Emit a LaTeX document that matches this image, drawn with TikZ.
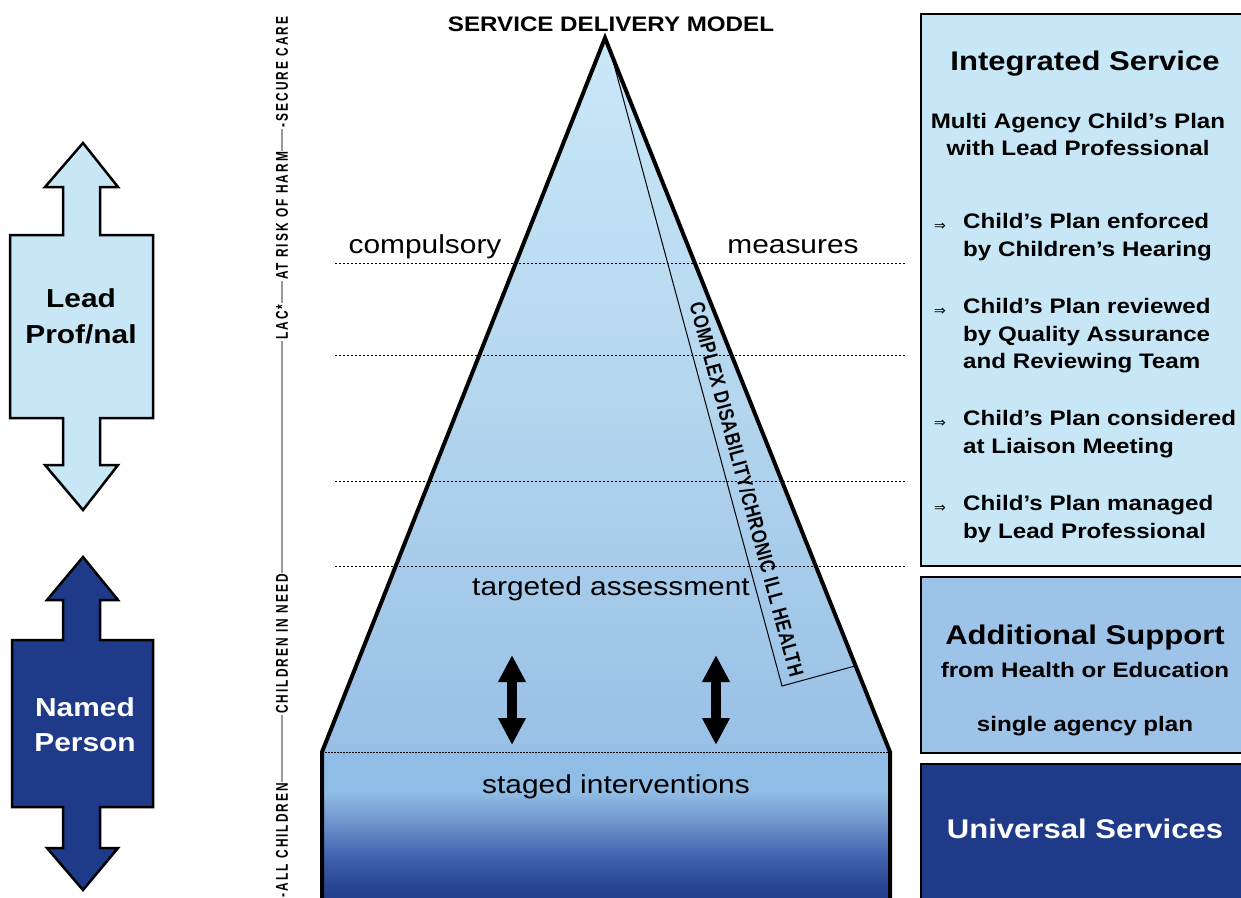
\documentclass[tikz,border=0pt]{standalone}
\usepackage{fontspec}
\setmainfont{Liberation Sans}[FakeStretch=1.15]
\newfontfamily\sidefont{Liberation Sans}[FakeStretch=0.7,LetterSpace=12]
\newfontfamily\stripfont{Liberation Sans}[FakeStretch=0.8,LetterSpace=3]
\newfontfamily\bulletfont{DejaVu Sans}
\usetikzlibrary{arrows.meta}
\definecolor{paleblue}{HTML}{C7E7F7}
\definecolor{midblue}{HTML}{9DC3E9}
\definecolor{navyblue}{HTML}{1F3A89}
\definecolor{pyrtop}{HTML}{C9E8F8}
\definecolor{pyrmid}{HTML}{B4D6EE}
\definecolor{pyrlow}{HTML}{98C0E6}
\definecolor{basetop}{HTML}{90BDE5}
\definecolor{baseupper}{HTML}{6F93CC}
\definecolor{baselower}{HTML}{4666B0}
\definecolor{basedeep}{HTML}{2A4795}
\definecolor{sidegray}{HTML}{9A9A9A}
\pgfdeclareverticalshading{pyrfade}{100bp}{color(0bp)=(pyrlow); color(25bp)=(pyrlow); color(50bp)=(pyrmid); color(75bp)=(pyrtop); color(100bp)=(pyrtop)}
\pgfdeclareverticalshading{basefade}{100bp}{color(0bp)=(navyblue); color(25bp)=(navyblue); color(32bp)=(basedeep); color(42bp)=(baselower); color(52bp)=(baseupper); color(62bp)=(basetop); color(100bp)=(basetop)}
\begin{document}
\begin{tikzpicture}[x=1pt,y=-1pt,
  levtext/.style={font=\fontsize{26}{30}\selectfont},
  head/.style={font=\bfseries\fontsize{27}{31}\selectfont},
  sub/.style={font=\bfseries\fontsize{21}{27}\selectfont, align=center},
  item/.style={font=\bfseries\fontsize{21}{27.5}\selectfont, align=left, anchor=west, inner sep=0pt},
  bullet/.style={font=\bulletfont\fontsize{14}{15}\selectfont, inner sep=0pt},
  side/.style={font=\sidefont\bfseries\fontsize{17}{19}\selectfont, rotate=90, inner sep=1pt},
  sideline/.style={draw=sidegray, line width=2.5pt},
  cutline/.style={line width=1pt, dash pattern=on 2pt off 2pt},
  updown/.style={line width=10pt, {Triangle[length=27pt,width=26pt]}-{Triangle[length=27pt,width=26pt]}},
  boxline/.style={draw=black, line width=2.5pt}]
\fill[white] (0,0) rectangle (1241,897);
\useasboundingbox (0,0) rectangle (1241,897);
% Drawing the pyramid
\coordinate (apex) at (605,38);
\coordinate (bl) at (322,752);
\coordinate (br) at (890,752);
\coordinate (blo) at (322,905);
\coordinate (bro) at (890,905);
\shade[shading=pyrfade] (apex) -- (bl) -- (br) -- cycle;
\shade[shading=basefade] (bl) rectangle (bro);
% Level lines
\draw[cutline] (335,263) -- (907,263);
\draw[cutline] (335,355) -- (907,355);
\draw[cutline] (335,481) -- (907,481);
\draw[cutline] (335,566) -- (907,566);
\draw[line width=0.8pt, dash pattern=on 1.5pt off 1.5pt] (bl) -- (br);
% Complex disability strip
\coordinate (stripTop) at (609,46);
\coordinate (stripBL) at (782,686);
\coordinate (stripBR) at (855,666);
\draw[line width=1pt] (stripTop) -- (stripBL) -- (stripBR);
\path (stripTop) -- (stripBL) node[pos=0.7, sloped, above=6pt, font=\stripfont\bfseries\fontsize{21}{23}\selectfont] (striptext) {COMPLEX DISABILITY/CHRONIC ILL HEALTH};
% Pyramid outline
\draw[line width=4pt, line join=miter] (blo) -- (bl) -- (apex) -- (br) -- (bro);
% Pyramid texts
\node[font=\bfseries\fontsize{21}{24}\selectfont] (title) at (611,24) {SERVICE DELIVERY MODEL};
\node[levtext] (compulsory) at (425,247) {compulsory};
\node[levtext] (measures) at (793,247) {measures};
\node[levtext] (targeted) at (611,589) {targeted assessment};
\node[levtext] (staged) at (616,787) {staged interventions};
% Two-way arrows
\coordinate (arrLtop) at (512,655);
\coordinate (arrLbot) at (512,745);
\coordinate (arrRtop) at (716,655);
\coordinate (arrRbot) at (716,745);
\draw[updown] (arrLtop) -- (arrLbot);
\draw[updown] (arrRtop) -- (arrRbot);
% Side scale
\node[side] (allch) at (282,840) {-ALL CHILDREN};
\node[side] (cin) at (282,644) {CHILDREN IN NEED};
\node[side] (lac) at (282,322) {LAC*};
\node[side] (harm) at (282,216) {AT RISK OF HARM};
\node[side] (secure) at (282,72) {-SECURE CARE};
\draw[sideline] (allch.east) -- (cin.west);
\draw[sideline] (cin.east) -- (lac.west);
\draw[sideline] (lac.east) -- (harm.west);
\draw[sideline] (harm.east) -- (secure.west);
% Lead professional arrow
\draw[fill=paleblue, line width=2.5pt] (83,143) -- (45,187) -- (63,187) -- (63,235) -- (10,235) -- (10,418) -- (63,418) -- (63,465) -- (45,465) -- (83,510) -- (118,465) -- (100,465) -- (100,418) -- (153,418) -- (153,235) -- (100,235) -- (100,187) -- (118,187) -- cycle;
\node[font=\bfseries\fontsize{26}{36}\selectfont, align=center] (leadtxt) at (81,316) {Lead\\Prof/nal};
% Named person arrow
\draw[fill=navyblue, line width=2.5pt] (83,557) -- (47,600) -- (63,600) -- (63,640) -- (12,640) -- (12,807) -- (63,807) -- (63,848) -- (47,848) -- (83,890) -- (118,848) -- (100,848) -- (100,807) -- (153,807) -- (153,640) -- (100,640) -- (100,600) -- (118,600) -- cycle;
\node[font=\bfseries\fontsize{26}{35}\selectfont, align=center, text=white] (namedtxt) at (85,725) {Named\\Person};
% Service boxes
\draw[boxline, fill=paleblue] (921,14) rectangle (1260,566);
\draw[boxline, fill=midblue] (921,577) rectangle (1260,753);
\draw[boxline, fill=navyblue] (921,764) rectangle (1260,910);
\node[head] (integ) at (1085,64) {Integrated Service};
\node[sub] (multi) at (1078,134) {Multi Agency Child’s Plan\\with Lead Professional};
\node[item] (enforced) at (963,237) {Child’s Plan enforced\\by Children’s Hearing};
\node[item] (reviewed) at (963,336) {Child’s Plan reviewed\\by Quality Assurance\\and Reviewing Team};
\node[item] (considered) at (963,434) {Child’s Plan considered\\at Liaison Meeting};
\node[item] (managed) at (963,519) {Child’s Plan managed\\by Lead Professional};
\node[bullet] (b1) at (940,227) {⇒};
\node[bullet] (b2) at (940,312) {⇒};
\node[bullet] (b3) at (940,424) {⇒};
\node[bullet] (b4) at (940,509) {⇒};
\node[head] (additional) at (1085,638) {Additional Support};
\node[sub] (fromhealth) at (1085,670) {from Health or Education};
\node[sub] (single) at (1085,726) {single agency plan};
\node[head, text=white] (universal) at (1085,829) {Universal Services};
\end{tikzpicture}
\end{document}
